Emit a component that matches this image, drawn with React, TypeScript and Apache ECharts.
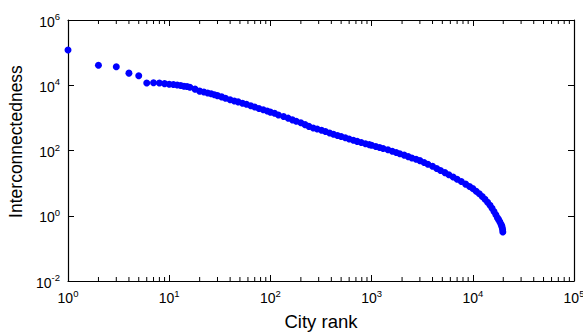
import React, { useEffect, useRef } from "react";
import * as echarts from "echarts";

const ranks = [
  1, 2, 3, 4, 5, 6, 7, 8, 9,
  10, 11, 12, 13, 14, 15, 16, 18, 20, 22, 24, 26, 28, 30, 33, 36, 40, 44, 48, 53, 58, 64, 70, 77, 85, 93,
  100, 110, 120, 135, 150, 165, 180, 200, 220, 240, 265, 290, 320, 350, 385, 420, 460, 500, 550, 600, 660, 720, 790, 870, 950,
  1000, 1100, 1200, 1300, 1450, 1600, 1750, 1900, 2100, 2300, 2500, 2750, 3000, 3300, 3600, 4000, 4400, 4800, 5300, 5800, 6400, 7000, 7700, 8500, 9300,
  10000, 10800, 11600, 12400, 13200, 14000, 14800, 15500, 16200, 16900, 17500, 18000, 18500, 19000, 19300, 19500, 19700, 19800,
];

const interconnectedness = [
  120000, 41000, 37000, 23500, 19500, 11700, 12000, 11700, 11200,
  10700, 10500, 10200, 9800, 9300, 9100, 8700, 7600, 6600, 6200, 5800, 5500, 5100, 4800, 4400, 4000, 3600, 3300, 3100, 2800, 2600, 2350, 2150, 1950, 1780, 1620,
  1500, 1380, 1230, 1100, 980, 870, 790, 710, 620, 550, 490, 455, 415, 380, 345, 315, 290, 270, 245, 225, 205, 190, 175, 162, 151,
  145, 132, 123, 115, 105, 95, 87, 80, 72, 65, 59, 54, 49, 43, 38, 33, 28, 24.5, 21, 18, 15.5, 13.2, 11.2, 9.3, 7.9,
  6.8, 5.6, 4.7, 3.9, 3.2, 2.6, 2.1, 1.7, 1.35, 1.07, 0.87, 0.76, 0.65, 0.55, 0.49, 0.44, 0.38, 0.32,
];

const xMin = 1;
const xMax = 100000;
const yMin = 0.01;
const yMax = 1000000;
const decades = [1, 10, 100, 1000, 10000];
const minorMultipliers = [2, 3, 4, 5, 6, 7, 8, 9];

const FONT = "Liberation Sans, Arial, Helvetica, sans-serif";

function powLabel(v: number) {
  const e = Math.round(Math.log10(v));
  return "{b|10}{s|" + e + "}";
}

const richLabel = {
  b: { fontSize: 14, fontFamily: FONT, color: "#000", verticalAlign: "bottom", lineHeight: 17 },
  s: { fontSize: 9.5, fontFamily: FONT, color: "#000", verticalAlign: "bottom", lineHeight: 17, padding: [0, 0, 7, 0] },
};

export default function App() {
  const ref = useRef<HTMLDivElement>(null);
  useEffect(() => {
    if (!ref.current) return;
    const chart = echarts.init(ref.current, null, { renderer: "svg" });
    const minorTicks: number[][] = [];
    decades.forEach((d) => minorMultipliers.forEach((m) => minorTicks.push([m * d, 1])));

    const axisLine = { show: true, lineStyle: { color: "#000", width: 1.2 } };
    const tick = { show: true, inside: true, length: 6, lineStyle: { color: "#000", width: 1 } };
    chart.setOption({
      animation: false,
      backgroundColor: "#fff",
      grid: { left: 68, right: 9, top: 20, bottom: 52, containLabel: false, outerBoundsMode: "none" },
      xAxis: [
        {
          type: "log",
          logBase: 10,
          min: xMin,
          max: xMax,
          position: "bottom",
          axisLine,
          axisTick: tick,
          minorTick: { show: false },
          splitLine: { show: false },
          axisLabel: {
            show: true,
            margin: 7,
            color: "#000",
            formatter: powLabel,
            rich: richLabel,
            showMinLabel: true,
            showMaxLabel: true,
          },
          name: "City rank",
          nameLocation: "middle",
          nameGap: 31,
          nameTextStyle: { fontSize: 18.5, fontFamily: FONT, color: "#000" },
        },
        {
          type: "log",
          logBase: 10,
          min: xMin,
          max: xMax,
          position: "top",
          axisLine,
          axisTick: tick,
          splitLine: { show: false },
          axisLabel: { show: false },
        },
      ],
      yAxis: [
        {
          type: "log",
          logBase: 10,
          min: yMin,
          max: yMax,
          interval: 2,
          position: "left",
          axisLine,
          axisTick: tick,
          splitLine: { show: false },
          axisLabel: {
            show: true,
            margin: 8,
            color: "#000",
            formatter: powLabel,
            rich: richLabel,
            showMinLabel: true,
            showMaxLabel: true,
          },
          name: "Interconnectedness",
          nameLocation: "middle",
          nameRotate: 90,
          nameGap: 41,
          nameTextStyle: { fontSize: 17.5, fontFamily: FONT, color: "#000", padding: [0, 0, 0, 18] },
        },
        {
          type: "log",
          logBase: 10,
          min: yMin,
          max: yMax,
          interval: 2,
          position: "right",
          axisLine,
          axisTick: tick,
          splitLine: { show: false },
          axisLabel: { show: false },
        },
      ],
      series: [
        {
          type: "custom",
          xAxisIndex: 0,
          yAxisIndex: 0,
          silent: true,
          data: minorTicks,
          renderItem: (params: any, api: any) => {
            const x = api.coord([api.value(0), 1])[0];
            const cs = params.coordSys;
            const bottom = cs.y + cs.height;
            return {
              type: "group",
              children: [
                { type: "line", shape: { x1: x, y1: bottom, x2: x, y2: bottom - 4 }, style: { stroke: "#000", lineWidth: 1 } },
                { type: "line", shape: { x1: x, y1: cs.y, x2: x, y2: cs.y + 4 }, style: { stroke: "#000", lineWidth: 1 } },
              ],
            };
          },
        },
        {
          type: "scatter",
          xAxisIndex: 0,
          yAxisIndex: 0,
          symbol: "circle",
          symbolSize: 7,
          itemStyle: { color: "#0000ff", opacity: 1 },
          data: ranks.map((r, i) => [r, interconnectedness[i]]),
        },
      ],
    });
    return () => chart.dispose();
  }, []);
  return <div ref={ref} style={{ position: "fixed", left: 0, top: 0, width: 583, height: 333 }} />;
}
